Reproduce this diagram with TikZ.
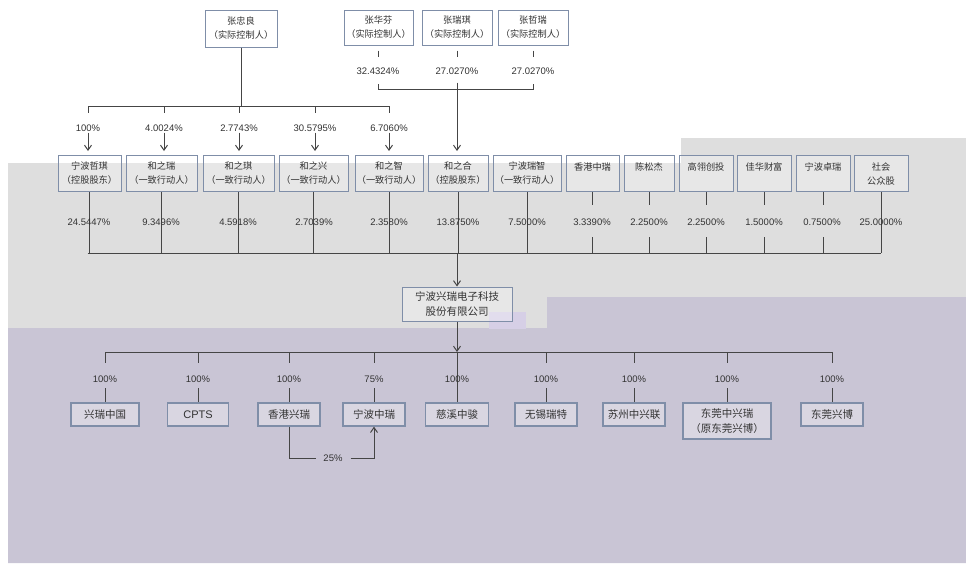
\documentclass[tikz,border=0pt]{standalone}
\usepackage{fontspec}
\setmainfont{Liberation Sans}
\newfontfamily\cjk{Noto Sans CJK SC}
\usetikzlibrary{arrows.meta}
\definecolor{bggray}{HTML}{DEDEDE}
\definecolor{bglav}{HTML}{C9C5D5}
\definecolor{lavpatch}{HTML}{D6CFE6}
\definecolor{bord}{HTML}{7F8EA8}
\definecolor{ln}{HTML}{454545}
\definecolor{tx}{HTML}{333333}
\begin{document}
\begin{tikzpicture}[x=1pt,y=-1pt,
  box/.style={draw=bord, line width=1pt, fill=white, fill opacity=0.3, text opacity=1,
    align=center, font=\cjk\fontsize{9.2}{14}\selectfont, text=tx, inner sep=0.5pt},
  subbox/.style={box, line width=1.3pt, font=\cjk\fontsize{10.5}{15}\selectfont},
  pct/.style={font=\fontsize{9.5}{11}\selectfont, text=tx, inner sep=1pt},
  conn/.style={draw=ln, line width=1pt},
  arr/.style={conn, -{Straight Barb[length=5pt,width=7pt]}}]
\useasboundingbox (0,0) rectangle (966,563);
\fill[white] (0,0) rectangle (966,563);
\fill[bggray] (8,163) -- (681,163) -- (681,138) -- (966,138) -- (966,297) -- (547,297) -- (547,328) -- (8,328) -- cycle;
\fill[bglav] (547,297) -- (966,297) -- (966,563) -- (8,563) -- (8,328) -- (547,328) -- cycle;
\fill[lavpatch] (489,312) rectangle (526,329);

% ---- controllers
\node[box, minimum width=72, minimum height=37] (zzl) at (241,28.5) {张忠良\\（实际控制人）};
\node[box, minimum width=69, minimum height=35] (zhf) at (378.5,27.5) {张华芬\\（实际控制人）};
\node[box, minimum width=70, minimum height=35] (zrq) at (457,27.5) {张瑞琪\\（实际控制人）};
\node[box, minimum width=70, minimum height=35] (zzr) at (533,27.5) {张哲瑞\\（实际控制人）};
\node[pct] (p1) at (378,71) {32.4324\%};
\node[pct] (p2) at (457,71) {27.0270\%};
\node[pct] (p3) at (533,71) {27.0270\%};
\foreach \n in {zhf,zrq,zzr} \draw[conn] ([yshift=-5pt]\n.south) -- ++(0,6);
\coordinate (bkt) at (0,84);
\coordinate (bkb) at (0,89);
\draw[conn] (p1.south |- bkt) -- (p1.south |- bkb) -- (p3.south |- bkb) -- (p3.south |- bkt);

% ---- shareholders
\foreach \n/\x/\w/\t in {
  s1/89.5/63/{宁波哲琪\\（控股股东）},
  s2/161.5/71/{和之瑞\\（一致行动人）},
  s3/238.5/71/{和之琪\\（一致行动人）},
  s4/313.5/69/{和之兴\\（一致行动人）},
  s5/389/68/{和之智\\（一致行动人）},
  s6/458/60/{和之合\\（控股股东）},
  s7/527/68/{宁波瑞智\\（一致行动人）},
  s8/592.5/53/{香港中瑞\\~},
  s9/649/50/{陈松杰\\~},
  s10/706/54/{高翎创投\\~},
  s11/764/54/{佳华财富\\~},
  s12/823/54/{宁波卓瑞\\~},
  s13/881/54/{社会\\公众股}}
  \node[box, minimum width=\w, minimum height=36] (\n) at (\x,173.5) {\t};

% ---- 张忠良 holdings
\node[pct] (q1) at (88,128) {100\%};
\node[pct] (q2) at (164,128) {4.0024\%};
\node[pct] (q3) at (239,128) {2.7743\%};
\node[pct] (q4) at (315,128) {30.5795\%};
\node[pct] (q5) at (389,128) {6.7060\%};
\coordinate (zb) at (0,106);
\draw[conn] (zzl.south) -- (zzl.south |- zb);
\draw[conn] (q1.north |- zb) -- (q5.north |- zb);
\foreach \q/\s in {q1/s1,q2/s2,q3/s3,q4/s4,q5/s5}{
  \draw[conn] (\q.north |- zb) -- ++(0,7);
  \draw[arr, shorten >=4pt] (\q.south) -- (\q.south |- \s.north);
}
\draw[arr, shorten <=7pt, shorten >=4pt] (p2.south) -- (p2.south |- s6.north);

% ---- shareholder percentages and bar
\coordinate (bb) at (0,253);
\foreach \n in {s1,s2,s3,s4,s5,s6,s7,s13} \draw[conn] (\n.south) -- (\n.south |- bb);
\coordinate (bm) at (0,237);
\foreach \n in {s8,s9,s10,s11,s12}{
  \draw[conn] (\n.south) -- ++(0,13);
  \draw[conn] (\n.south |- bm) -- (\n.south |- bb);
}
\draw[conn] ([xshift=-2pt]s1.south |- bb) -- (s13.south |- bb);
\foreach \n/\x/\t in {v1/89/24.5447, v2/161/9.3496, v3/238/4.5918, v4/314/2.7039,
  v5/389/2.3580, v6/458/13.8750, v7/527/7.5000, v8/592/3.3390, v9/649/2.2500,
  v10/706/2.2500, v11/764/1.5000, v12/822/0.7500, v13/881/25.0000}
  \node[pct] (\n) at (\x,222) {\t\%};

% ---- company
\node[box, minimum width=110, minimum height=34, font=\cjk\fontsize{10.5}{15}\selectfont] (co) at (457,304) {宁波兴瑞电子科技\\股份有限公司};
\draw[arr] (co.north |- bb) -- (co.north);

% ---- subsidiaries
\foreach \n/\x/\w/\t in {
  c1/105/68/{兴瑞中国},
  c2/198/61/{\fontspec{Liberation Sans}\fontsize{11}{13}\selectfont CPTS},
  c3/289/62/{香港兴瑞},
  c4/374/62/{宁波中瑞},
  c5/457/63/{慈溪中骏},
  c6/546/62/{无锡瑞特},
  c7/634/62/{苏州中兴联},
  c9/832/62/{东莞兴博}}
  \node[subbox, minimum width=\w, minimum height=23] (\n) at (\x,414.5) {\t};
\node[subbox, minimum width=88, minimum height=36] (c8) at (727,421) {东莞中兴瑞\\（原东莞兴博）};
\coordinate (cb) at (0,352);
\coordinate (cm) at (0,388);
\draw[arr] (co.south) -- (co.south |- cb);
\draw[conn] (co.south |- cb) -- (c5.north);
\draw[conn] (c1.north |- cb) -- (c9.north |- cb);
\foreach \n in {c1,c2,c3,c4,c6,c7,c8,c9}{
  \draw[conn] (\n.north |- cb) -- ++(0,11);
  \draw[conn] (\n.north |- cm) -- (\n.north);
}
\foreach \n/\x/\t in {l1/105/100, l2/198/100, l3/289/100, l4/374/75, l5/457/100,
  l6/546/100, l7/634/100, l8/727/100, l9/832/100}
  \node[pct] (\n) at (\x,379) {\t\%};

% ---- 25% cross holding
\node[pct] (l25) at (333,458) {25\%};
\draw[conn, shorten >=6pt] (c3.south) |- (l25.west);
\draw[arr, shorten <=7pt] (l25.east) -| (c4.south);
\end{tikzpicture}
\end{document}
